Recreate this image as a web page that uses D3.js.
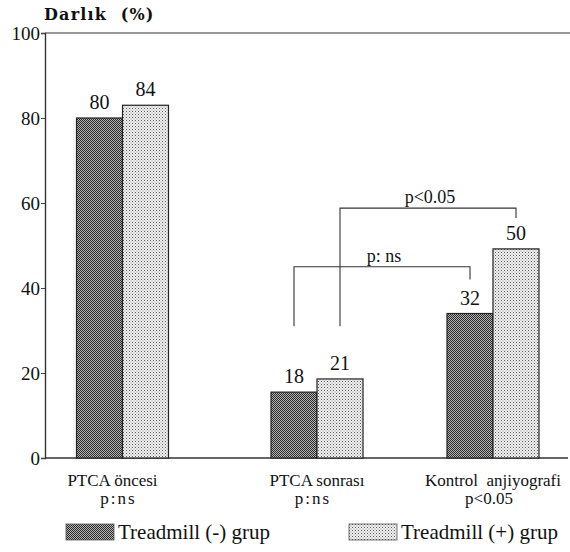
<!DOCTYPE html>
<html>
<head>
<meta charset="utf-8">
<script src="https://cdn.jsdelivr.net/npm/d3@7"></script>
<style>
  body { margin: 0; background: #fff; }
  text { font-family: "Liberation Serif", "Times New Roman", serif; fill: #111; }
</style>
</head>
<body>
<div id="chart"></div>
<script>
// data
var categories = ["PTCA öncesi", "PTCA sonrası", "Kontrol  anjiyografi"];
var pLabels = ["p:ns", "p:ns", "p<0.05"];
var series = ["Treadmill (-) grup", "Treadmill (+) grup"];
var barNeg = [80, 15.5, 34];      // drawn heights
var barPos = [83, 18.6, 49.2];
var labelNeg = ["80", "18", "32"]; // printed numbers
var labelPos = ["84", "21", "50"];
var yTicks = [0, 20, 40, 60, 80, 100];

// significance brackets: from/to = [category index, series index]
var brackets = [
  {from: [1, 1], to: [2, 1], y: 58.8, leftEnd: 31, rightEnd: 56.5, label: "p<0.05"},
  {from: [1, 0], to: [2, 0], y: 45, leftEnd: 31, rightEnd: 42, label: "p: ns"}
];

var width = 570, height = 552;

var svg = d3.select("#chart").append("svg")
  .attr("width", width)
  .attr("height", height);

var defs = svg.append("defs");
var pd = defs.append("pattern").attr("id", "dark")
  .attr("width", 2).attr("height", 2).attr("patternUnits", "userSpaceOnUse");
pd.append("rect").attr("width", 2).attr("height", 2).attr("fill", "#b8b8b8");
pd.append("rect").attr("width", 1).attr("height", 1).attr("fill", "#262626");
pd.append("rect").attr("x", 1).attr("y", 1).attr("width", 1).attr("height", 1).attr("fill", "#262626");

var pl = defs.append("pattern").attr("id", "light")
  .attr("width", 3).attr("height", 3).attr("patternUnits", "userSpaceOnUse");
pl.append("rect").attr("width", 3).attr("height", 3).attr("fill", "#f2f2f2");
pl.append("rect").attr("width", 1).attr("height", 1).attr("fill", "#555");
pl.append("rect").attr("x", 1.5).attr("y", 1.5).attr("width", 1).attr("height", 1).attr("fill", "#888");

var fills = ["url(#dark)", "url(#light)"];

var y = d3.scaleLinear().domain([0, 100]).range([458, 33]);
// group centres are not evenly spaced in the original
var x = d3.scaleLinear().domain([0, 1, 2]).range([122.5, 317, 493]);
var sub = d3.scaleBand().domain([0, 1]).range([-46, 46]);

function barX(ci, si) { return x(ci) + sub(si); }
function barMid(ci, si) { return barX(ci, si) + sub.bandwidth() / 2; }

// frame
svg.append("line").attr("x1", 45).attr("x2", 570).attr("y1", y(100)).attr("y2", y(100))
  .attr("stroke", "#333").attr("stroke-width", 1.2);
svg.append("line").attr("x1", 45).attr("x2", 568).attr("y1", y(0)).attr("y2", y(0))
  .attr("stroke", "#333").attr("stroke-width", 1.6);

var yAxis = svg.append("g")
  .attr("transform", "translate(45,0)")
  .call(d3.axisLeft(y).tickValues(yTicks).tickSize(4).tickPadding(1));
yAxis.select(".domain").attr("stroke", "#333").attr("stroke-width", 1.4);
yAxis.selectAll(".tick line").attr("stroke", "#444");
yAxis.selectAll("text")
  .style("font-family", "Liberation Serif, serif")
  .style("font-size", "19px")
  .attr("fill", "#222");

// title
svg.append("text")
  .attr("x", 44).attr("y", 20)
  .style("font-family", "DejaVu Serif, serif")
  .style("font-weight", "bold")
  .style("font-size", "16px")
  .style("letter-spacing", "1.2px")
  .style("white-space", "pre")
  .text("Darlık  (%)");

// bars
var rows = [];
categories.forEach(function(c, i) {
  rows.push({ci: i, si: 0, v: barNeg[i], lab: labelNeg[i]});
  rows.push({ci: i, si: 1, v: barPos[i], lab: labelPos[i]});
});

svg.selectAll(".bar")
  .data(rows)
  .enter().append("rect")
  .attr("class", "bar")
  .attr("x", function(d) { return barX(d.ci, d.si); })
  .attr("y", function(d) { return y(d.v); })
  .attr("width", sub.bandwidth())
  .attr("height", function(d) { return y(0) - y(d.v); })
  .attr("fill", function(d) { return fills[d.si]; })
  .attr("stroke", "#222")
  .attr("stroke-width", 1.2);

svg.selectAll(".val")
  .data(rows)
  .enter().append("text")
  .attr("class", "val")
  .attr("x", function(d) { return barMid(d.ci, d.si); })
  .attr("y", function(d) { return y(d.v) - 9; })
  .attr("text-anchor", "middle")
  .style("font-size", "20px")
  .text(function(d) { return d.lab; });

// category labels
svg.selectAll(".cat")
  .data(categories)
  .enter().append("text")
  .attr("class", "cat")
  .attr("x", function(d, i) { return x(i) - 10 * (i === 0); })
  .attr("y", 486)
  .attr("text-anchor", "middle")
  .style("font-size", "17px")
  .style("white-space", "pre")
  .text(function(d) { return d; });

svg.selectAll(".pl")
  .data(pLabels)
  .enter().append("text")
  .attr("class", "pl")
  .attr("x", function(d, i) { return x(i) - 4; })
  .attr("y", 504)
  .attr("text-anchor", "middle")
  .style("font-size", "17px")
  .style("letter-spacing", function(d) { return d === "p:ns" ? "2px" : "0px"; })
  .text(function(d) { return d; });

// brackets
var bg = svg.selectAll(".bracket")
  .data(brackets)
  .enter().append("g")
  .attr("class", "bracket");

bg.append("path")
  .attr("fill", "none")
  .attr("stroke", "#333")
  .attr("stroke-width", 1.1)
  .attr("d", function(d) {
    var x1 = barMid(d.from[0], d.from[1]), x2 = barMid(d.to[0], d.to[1]);
    return "M" + x1 + "," + y(d.leftEnd) + "V" + y(d.y) + "H" + x2 + "V" + y(d.rightEnd);
  });

bg.append("text")
  .attr("x", function(d) {
    return (barMid(d.from[0], d.from[1]) + barMid(d.to[0], d.to[1])) / 2 + 2;
  })
  .attr("y", function(d) { return y(d.y) - 5; })
  .attr("text-anchor", "middle")
  .style("font-size", "18px")
  .style("white-space", "pre")
  .text(function(d) { return d.label; });

// legend
var lg = svg.selectAll(".legend")
  .data(series)
  .enter().append("g")
  .attr("class", "legend")
  .attr("transform", function(d, i) { return "translate(" + (i === 0 ? 66 : 349) + ",524)"; });

lg.append("rect")
  .attr("width", 48).attr("height", 16)
  .attr("fill", function(d, i) { return fills[i]; })
  .attr("stroke", "#555")
  .attr("stroke-width", 0.8);

lg.append("text")
  .attr("x", 52).attr("y", 15)
  .style("font-size", "21px")
  .text(function(d) { return d; });
</script>
</body>
</html>
